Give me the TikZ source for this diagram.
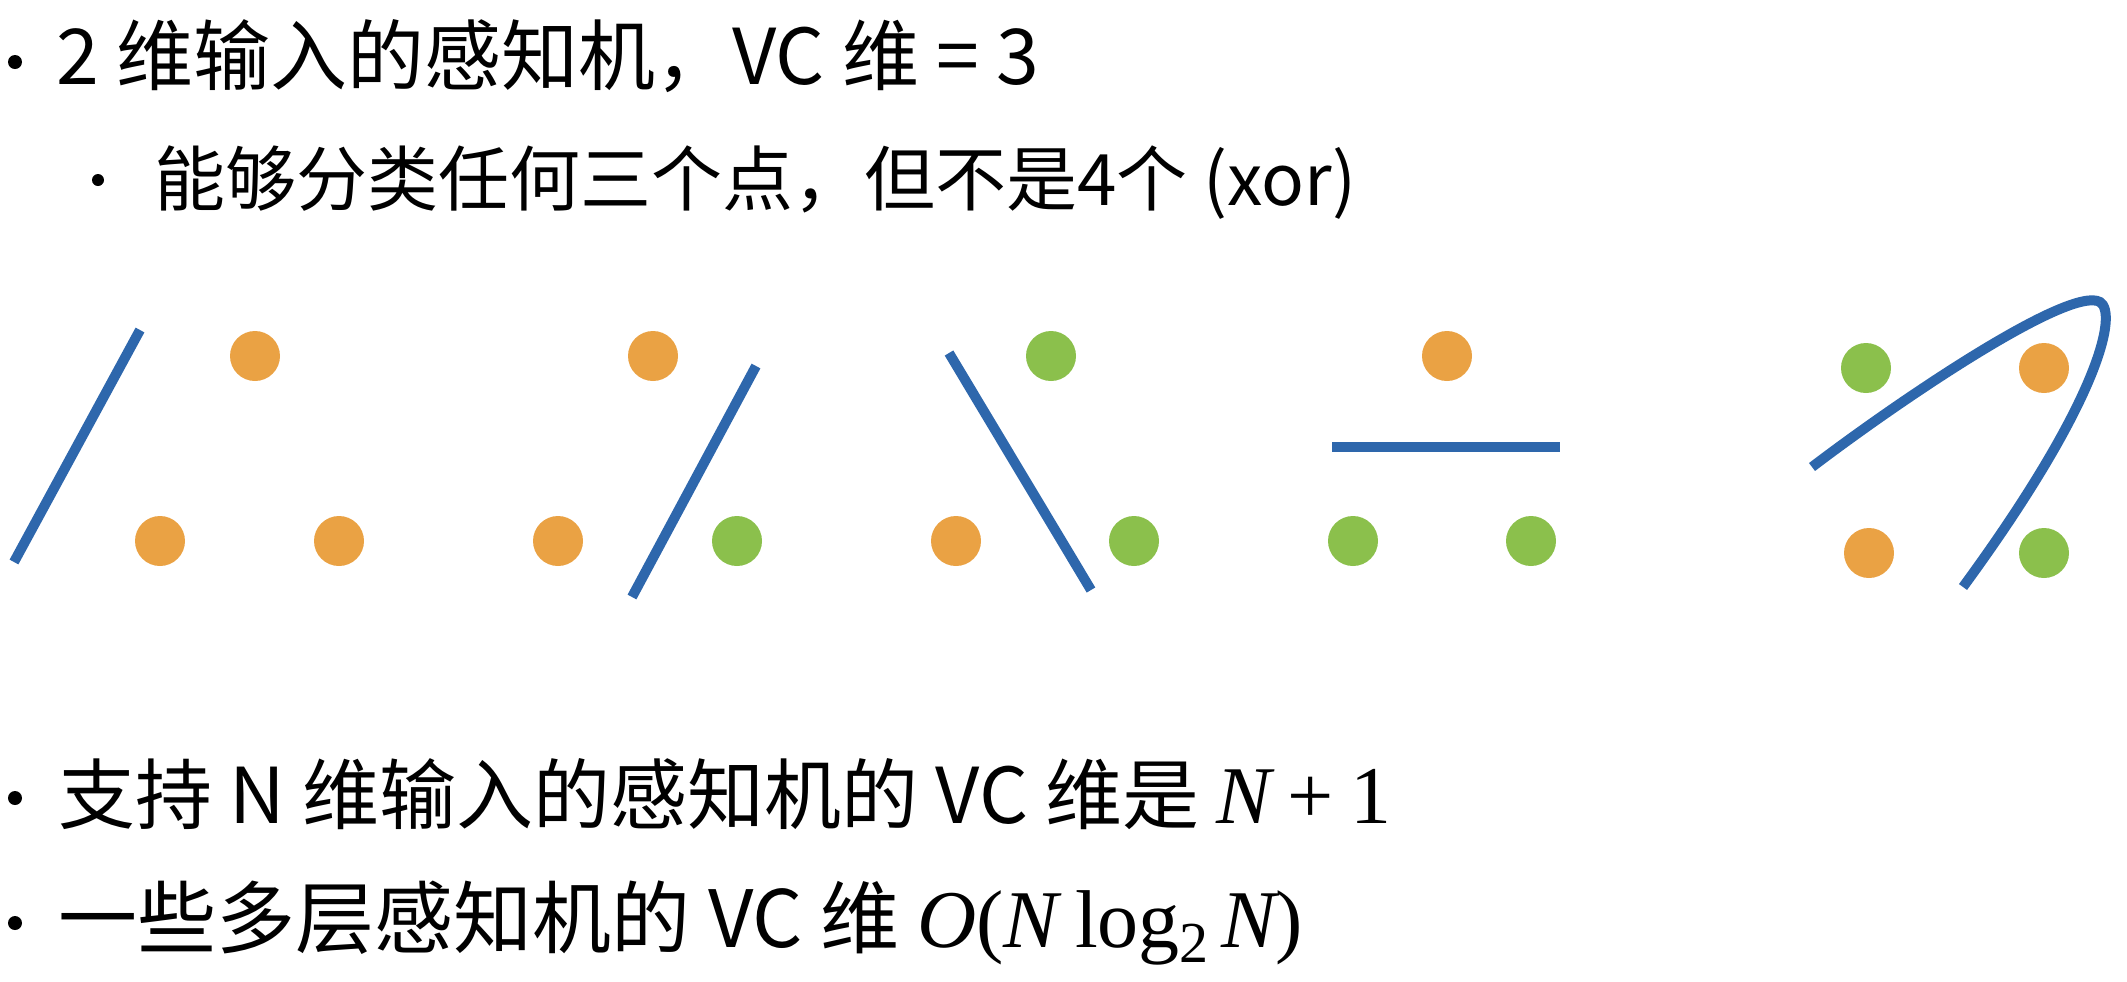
\documentclass[tikz,border=0pt]{standalone}
\usepackage{fontspec}
\setmainfont{Noto Sans CJK SC}
\newfontfamily\tms{Liberation Serif}
\definecolor{lineblue}{RGB}{46,103,172}
\definecolor{dotorange}{RGB}{234,162,68}
\definecolor{dotgreen}{RGB}{139,192,76}
\newcommand{\mth}{\tms\fontsize{41}{48}\selectfont}
\newcommand{\msub}{\tms\fontsize{29}{34}\selectfont}
\tikzset{
  dot/.style={circle,inner sep=0pt,minimum size=25pt},
  od/.style={dot,fill=dotorange},
  gd/.style={dot,fill=dotgreen},
  sepline/.style={draw=lineblue,line width=5pt},
  txt/.style={anchor=base west,inner sep=0pt,font=\fontsize{38.5}{46}\selectfont},
  txtb/.style={anchor=base west,inner sep=0pt,font=\fontsize{39.5}{46}\selectfont},
  subtxt/.style={anchor=base west,inner sep=0pt,font=\fontsize{35.5}{42}\selectfont},
  bul/.style={circle,fill=black,inner sep=0pt,minimum size=7pt},
  subbul/.style={circle,fill=black,inner sep=0pt,minimum size=6pt},
}
\begin{document}
\begin{tikzpicture}[x=0.5pt,y=-0.5pt]
\useasboundingbox (0,0) rectangle (2127,981);
% text
\node[bul] (b1) at (15,62) {};
\node[txt] (t1) at (56,84) {2 维输入的感知机，VC 维 = 3};
\node[subbul] (b2) at (98,180) {};
\node[subtxt] (t2) at (154,205) {能够分类任何三个点，但不是4个 (xor)};
\node[bul] (b3) at (15,798) {};
\node[txt] (t3) at (58,823) {支持 N 维输入的感知机的 VC 维是 {\mth\itshape N}{\mth\hspace{0.2em}+\hspace{0.2em}1}};
\node[bul] (b4) at (15,923) {};
\node[txtb] (t4) at (58,947) {一些多层感知机的 VC 维 {\mth\itshape O}{\mth (}{\mth\itshape N}{\mth\hspace{0.2em}log}\raisebox{-0.2em}{\msub 2}{\mth\hspace{0.15em}}{\mth\itshape N}{\mth )}};
% group 1
\draw[sepline] (14,562) -- (140,330);
\node[od] (g1a) at (255,356) {};
\node[od] (g1b) at (160,541) {};
\node[od] (g1c) at (339,541) {};
% group 2
\node[od] (g2a) at (653,356) {};
\node[od] (g2b) at (558,541) {};
\node[gd] (g2c) at (737,541) {};
\draw[sepline] (632,597) -- (756,366);
% group 3
\node[gd] (g3a) at (1051,356) {};
\node[od] (g3b) at (956,541) {};
\node[gd] (g3c) at (1134,541) {};
\draw[sepline] (949,353) -- (1091,590);
% group 4
\node[od] (g4a) at (1447,356) {};
\node[gd] (g4b) at (1353,541) {};
\node[gd] (g4c) at (1531,541) {};
\draw[sepline] (1332,447) -- (1560,447);
% group 5
\node[gd] (g5a) at (1866,368) {};
\node[od] (g5b) at (2044,368) {};
\node[od] (g5c) at (1869,553) {};
\node[gd] (g5d) at (2044,553) {};
\draw[sepline] (1812,467) .. controls (1900,400) and (2070,285) .. (2100,302)
  .. controls (2118,313) and (2100,400) .. (1963,587);
\end{tikzpicture}
\end{document}
